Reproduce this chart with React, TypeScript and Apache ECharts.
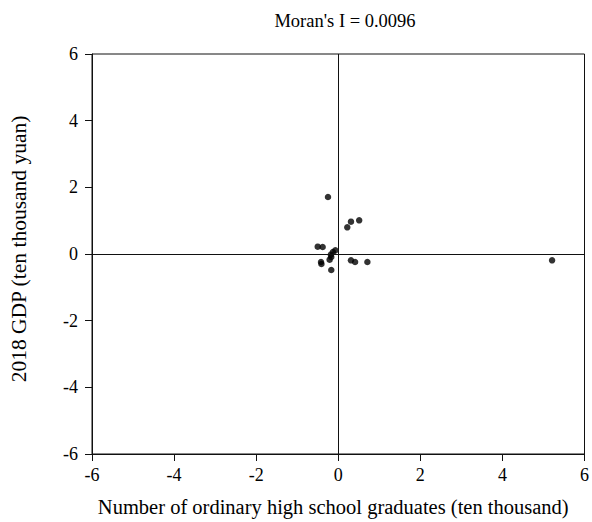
import React, { useEffect, useRef } from "react";
import * as echarts from "echarts";

const xValues = [-0.25, 0.22, 0.31, 0.51, -0.5, -0.38, -0.13, -0.07, -0.18, -0.21, -0.17, -0.42, -0.41, -0.17, 0.31, 0.41, 0.71, 5.21];
const yValues = [1.71, 0.8, 0.97, 1.01, 0.22, 0.21, 0.06, 0.11, -0.02, -0.17, -0.09, -0.24, -0.3, -0.48, -0.19, -0.24, -0.24, -0.19];
const titleText = "Moran's I = 0.0096";
const xName = "Number of ordinary high school graduates (ten thousand)";
const yName = "2018 GDP (ten thousand yuan)";

const FONT = "'Liberation Serif', 'Times New Roman', serif";

export default function App() {
  const ref = useRef<HTMLDivElement>(null);
  useEffect(() => {
    if (!ref.current) return;
    const chart = echarts.init(ref.current, undefined, { renderer: "svg" });
    const data = xValues.map((x, i) => [x, yValues[i]]);
    const axisCommon = {
      type: "value" as const,
      min: -6,
      max: 6,
      interval: 2,
      nameLocation: "middle" as const,
      axisLine: { show: true, onZero: false, lineStyle: { color: "#111", width: 1 } },
      axisTick: { show: true, length: 7, lineStyle: { color: "#111", width: 1 } },
      axisLabel: { fontFamily: FONT, fontSize: 18, color: "#000" },
      splitLine: { show: false },
    };
    chart.setOption({
      animation: false,
      backgroundColor: "#fff",
      graphic: [
        {
          type: "text",
          x: 345,
          y: 21,
          style: {
            text: titleText,
            fontFamily: FONT,
            fontSize: 18.5,
            fill: "#000",
            textAlign: "center",
            textVerticalAlign: "middle",
          },
        },
      ],
      grid: {
        left: 87,
        right: 6,
        top: 54,
        bottom: 62,
        containLabel: false,
        show: true,
        borderColor: "#111",
        borderWidth: 1,
        backgroundColor: "transparent",
      },
      xAxis: {
        ...axisCommon,
        name: xName,
        nameGap: 42,
        nameTextStyle: { fontFamily: FONT, fontSize: 20.5, color: "#000", padding: [0, 10, 0, 0] },
        axisLabel: { ...axisCommon.axisLabel, margin: 12 },
      },
      yAxis: {
        ...axisCommon,
        name: yName,
        nameGap: 62,
        nameTextStyle: { fontFamily: FONT, fontSize: 21.5, color: "#000", padding: [0, 0, 0, 10] },
        axisLabel: { ...axisCommon.axisLabel, margin: 14 },
      },
      series: [
        {
          type: "scatter",
          data,
          symbol: "circle",
          symbolSize: 6.5,
          itemStyle: { color: "#000" },
          markLine: {
            silent: true,
            symbol: "none",
            label: { show: false },
            lineStyle: { color: "#111", width: 1, type: "solid" },
            data: [{ xAxis: 0 }, { yAxis: 0 }],
          },
        },
      ],
    });
    return () => chart.dispose();
  }, []);
  return (
    <div
      ref={ref}
      style={{ position: "fixed", left: 0, top: 0, width: 592, height: 522 }}
    />
  );
}
